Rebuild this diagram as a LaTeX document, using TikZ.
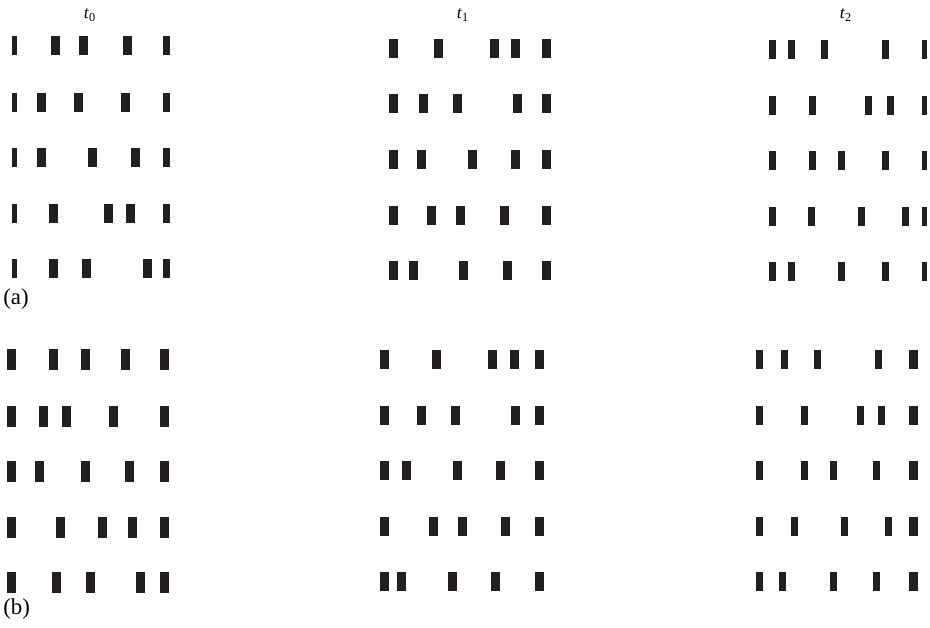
\documentclass[tikz,border=0pt]{standalone}
\usepackage{fontspec}
\setmainfont{Liberation Serif}
\usepackage{xcolor}
\usepackage{tikz}
\definecolor{pulsegray}{RGB}{35,31,32}
% one block of pulse trains: left x/w, right x/w, middle width, height, rows y/{middle x}
\newcommand{\pulsegroup}[7]{%
  \foreach \y/\xs in {#7}{
    \fill[pulse] (#1,\y) rectangle ++(#2,#6);
    \fill[pulse] (#3,\y) rectangle ++(#4,#6);
    \foreach \x in \xs {\fill[pulse] (\x,\y) rectangle ++(#5,#6);}
  }}

\begin{document}
\begin{tikzpicture}[x=0.02cm,y=-0.02cm]
\tikzset{pulse/.style={fill=pulsegray,draw=none},
         timelabel/.style={font=\fontsize{10}{11}\selectfont},
         panellabel/.style={anchor=west,font=\fontsize{13}{14}\selectfont,inner sep=0pt}}
\useasboundingbox (0,0) rectangle (930,627);
% Time labels
\node[timelabel] (t0) at (90,15) {\textit{t}\textsubscript{0}};
\node[timelabel] (t1) at (463,15) {\textit{t}\textsubscript{1}};
\node[timelabel] (t2) at (846,15) {\textit{t}\textsubscript{2}};
% Panel (a)
\pulsegroup{12}{5}{163}{7}{9}{19}{36/{51,79,123},93/{37,74,121},148/{37,88,131},204/{49,104,126},259/{49,82,143}}
\pulsegroup{389}{9}{542}{9}{9}{19}{39/{434,490,511},94/{419,453,513},150/{417,468,511},206/{427,456,500},261/{409,459,503}}
\pulsegroup{769}{7}{922}{5}{7}{19}{40/{788,821,882},96/{809,865,887},151/{809,838,882},207/{808,858,902},262/{788,838,882}}
\node[panellabel] (pa) at (3,299) {(a)};
% Panel (b)
\pulsegroup{7}{9}{160}{9}{9}{21}{349/{49,81,121},406/{39,62,109},461/{35,81,125},517/{56,98,128},572/{52,86,136}}
\pulsegroup{380}{9}{535}{9}{9}{19}{350/{432,488,510},406/{417,451,511},461/{402,453,496},517/{429,458,501},572/{397,448,491}}
\pulsegroup{756}{7}{909}{9}{7}{19}{350/{781,814,875},406/{801,857,878},461/{801,830,873},517/{791,841,885},572/{779,830,873}}
\node[panellabel] (pb) at (3,609) {(b)};
\end{tikzpicture}
\end{document}
